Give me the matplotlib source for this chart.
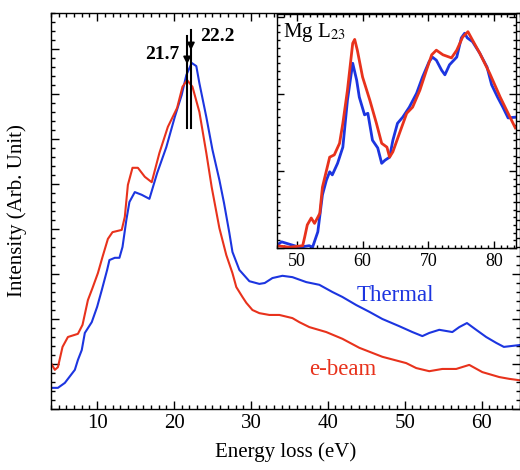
import matplotlib
matplotlib.use("Agg")
import matplotlib.pyplot as plt
from matplotlib.ticker import MultipleLocator, NullFormatter

plt.rcParams['font.family'] = ['Liberation Serif', 'DejaVu Serif']
plt.rcParams['mathtext.fontset'] = 'stix'

# ---------------- data ----------------
thermal_x = [4.0, 4.9, 5.8, 7.1, 7.5, 8.0, 8.4, 9.3, 10.0, 10.6, 11.3, 11.6, 12.3, 12.9, 13.3, 13.8,
             14.2, 14.9, 15.8, 16.8, 17.8, 19.0, 20.1, 21.0, 21.6, 22.3, 22.9, 23.3, 24.2, 25.0,
             25.9, 26.5, 27.2, 27.6, 28.5, 29.8, 31.1, 31.8, 32.8, 34.1, 35.4, 37.2, 38.9, 40.6,
             41.9, 43.7, 45.4, 47.1, 49.3, 51.0, 52.3, 53.2, 54.5, 56.2, 57.1, 58.1, 59.3, 60.6,
             61.9, 62.9, 64.9]
thermal_y = [0.47, 0.47, 0.58, 0.87, 1.09, 1.31, 1.69, 1.93, 2.27, 2.64, 3.09, 3.31, 3.36, 3.36, 3.60, 4.20,
             4.60, 4.82, 4.76, 4.67, 5.24, 5.82, 6.49, 6.98, 7.42, 7.69, 7.62, 7.24, 6.49, 5.76,
             5.09, 4.58, 3.91, 3.49, 3.09, 2.84, 2.78, 2.80, 2.91, 2.96, 2.93, 2.82, 2.76, 2.60,
             2.49, 2.31, 2.16, 2.00, 1.84, 1.71, 1.62, 1.69, 1.76, 1.71, 1.82, 1.91, 1.76, 1.60,
             1.47, 1.38, 1.42]

ebeam_x = [4.0, 4.5, 4.9, 5.5, 6.2, 7.5, 8.1, 8.8, 9.4, 10.1, 10.7, 11.4, 12.0, 13.2, 13.6, 14.0,
           14.6, 15.3, 16.2, 17.1, 18.1, 19.2, 20.4, 21.1, 21.7, 22.4, 23.3, 24.2, 24.9, 25.9,
           26.8, 27.6, 28.1, 28.9, 29.4, 30.2, 31.1, 32.4, 33.7, 35.4, 36.3, 37.6, 39.8, 41.9,
           44.1, 47.1, 50.2, 51.5, 53.2, 54.9, 56.7, 58.4, 60.1, 62.3, 63.6, 64.9]
ebeam_y = [1.02, 0.87, 0.93, 1.38, 1.60, 1.67, 1.87, 2.42, 2.69, 3.02, 3.38, 3.78, 3.93, 3.98, 4.27, 4.98,
           5.36, 5.36, 5.16, 5.04, 5.69, 6.27, 6.69, 7.16, 7.31, 7.16, 6.60, 5.69, 4.93, 4.02,
           3.42, 3.02, 2.71, 2.49, 2.36, 2.20, 2.13, 2.09, 2.09, 2.02, 1.93, 1.82, 1.71, 1.56,
           1.36, 1.16, 1.02, 0.91, 0.84, 0.89, 0.89, 0.98, 0.82, 0.71, 0.67, 0.64]

# inset: Mg L23 edge
inset_thermal_x = [46.9, 47.7, 50.4, 51.9, 52.4, 53.2, 53.9, 54.5, 55.0, 55.4, 56.2, 57.0, 57.7, 58.5,
                   59.1, 59.5, 60.3, 60.8, 61.5, 62.3, 62.9, 63.4, 64.1, 64.6, 65.3, 66.1, 67.1, 68.2,
                   69.1, 70.1, 70.6, 71.2, 72.0, 72.5, 73.2, 74.3, 75.0, 75.5, 75.9, 76.7, 77.8, 78.9,
                   79.6, 80.5, 81.3, 82.1, 83.2]
inset_thermal_y = [0.03, 0.08, 0.01, 0.03, 0.01, 0.21, 0.69, 0.88, 0.99, 0.95, 1.10, 1.31, 1.92, 2.40,
                   2.18, 1.96, 1.73, 1.75, 1.40, 1.30, 1.10, 1.14, 1.18, 1.40, 1.62, 1.70, 1.83, 2.01,
                   2.22, 2.42, 2.48, 2.44, 2.31, 2.25, 2.38, 2.48, 2.73, 2.79, 2.73, 2.68, 2.53, 2.35,
                   2.12, 1.96, 1.83, 1.69, 1.70]
inset_ebeam_x = [46.9, 48.9, 50.9, 51.2, 51.6, 52.2, 52.7, 53.2, 53.5, 53.9, 55.0, 55.7, 56.5, 57.0,
                 57.7, 58.5, 58.8, 59.2, 60.0, 61.1, 62.1, 62.9, 63.7, 64.1, 64.6, 65.6, 66.7, 67.6,
                 68.7, 69.7, 70.5, 71.2, 72.2, 73.5, 74.3, 75.2, 76.0, 76.7, 77.8, 79.3, 80.9, 82.1,
                 83.2]
inset_ebeam_y = [0.03, 0.01, 0.03, 0.14, 0.30, 0.39, 0.32, 0.40, 0.45, 0.79, 1.18, 1.21, 1.36, 1.62,
                 2.05, 2.66, 2.71, 2.57, 2.22, 1.92, 1.62, 1.36, 1.31, 1.18, 1.25, 1.49, 1.75, 1.83,
                 2.05, 2.31, 2.51, 2.57, 2.51, 2.47, 2.57, 2.74, 2.81, 2.70, 2.53, 2.27, 1.96, 1.75,
                 1.56]

peak_positions = [21.7, 22.2]
peak_labels = ["21.7", "22.2"]

BLUE = "#1c35e0"
RED = "#e8321c"

fig = plt.figure(figsize=(5.2, 4.7), dpi=100)
ax = fig.add_axes([51/520, 1 - 409/470, 469/520, 396/470])

ax.plot(thermal_x, thermal_y, color=BLUE, lw=1.5)
ax.plot(ebeam_x, ebeam_y, color=RED, lw=1.5)

ax.set_xlim(4, 65)
ax.set_ylim(0, 8.8)
ax.xaxis.set_major_locator(MultipleLocator(10))
ax.xaxis.set_minor_locator(MultipleLocator(1))
ax.yaxis.set_major_locator(MultipleLocator(1))
ax.yaxis.set_minor_locator(MultipleLocator(0.2))
ax.yaxis.set_major_formatter(NullFormatter())
ax.tick_params(which='both', direction='in', top=True, right=True, width=1.0)
ax.tick_params(which='major', length=6, labelsize=15)
ax.tick_params(which='minor', length=3)
for s in ax.spines.values():
    s.set_linewidth(1.0)

ax.set_xlabel("Energy loss (eV)", fontsize=15)
ax.set_ylabel("Intensity (Arb. Unit)", fontsize=15)
ax.xaxis.set_label_coords(0.5, -0.085)
ax.yaxis.set_label_coords(-0.052, 0.5)

# peak markers
tops = [8.29, 8.42]
tips = [7.71, 8.02]
for xp, top, tip in zip(peak_positions, tops, tips):
    ax.plot([xp, xp], [6.24, top], color='k', lw=1.5)
    ax.annotate('', xy=(xp, tip - 0.05), xytext=(xp, top),
                arrowprops=dict(arrowstyle='-|>', color='k', lw=1.2, mutation_scale=11,
                                shrinkA=0, shrinkB=0))
ax.text(20.75, 7.87, peak_labels[0], fontsize=14, fontweight='bold', ha='right', va='center')
ax.text(23.35, 8.27, peak_labels[1], fontsize=14, fontweight='bold', ha='left', va='center')

ax.text(43.7, 2.53, "Thermal", color=BLUE, fontsize=16.5, ha='left', va='center')
ax.text(37.6, 0.87, "e-beam", color=RED, fontsize=16.5, ha='left', va='center')

# inset
axi = fig.add_axes([277/520, 1 - 248/470, 239/520, 234/470])
axi.plot(inset_thermal_x, inset_thermal_y, color=BLUE, lw=2.0)
axi.plot(inset_ebeam_x, inset_ebeam_y, color=RED, lw=2.0)
axi.set_xlim(47, 83.3)
axi.set_ylim(0, 3.04)
axi.xaxis.set_major_locator(MultipleLocator(10))
axi.xaxis.set_minor_locator(MultipleLocator(1))
axi.yaxis.set_major_locator(MultipleLocator(1))
axi.yaxis.set_minor_locator(MultipleLocator(0.1))
axi.yaxis.set_major_formatter(NullFormatter())
axi.tick_params(which='both', direction='in', top=True, right=True, width=1.0)
axi.tick_params(which='major', length=5, labelsize=13)
axi.tick_params(which='minor', length=2.5)
for s in axi.spines.values():
    s.set_linewidth(1.0)
axi.text(0.025, 0.92, r"Mg L$_{23}$", transform=axi.transAxes, fontsize=15,
         ha='left', va='center')

fig.savefig("out.png", dpi=100)
